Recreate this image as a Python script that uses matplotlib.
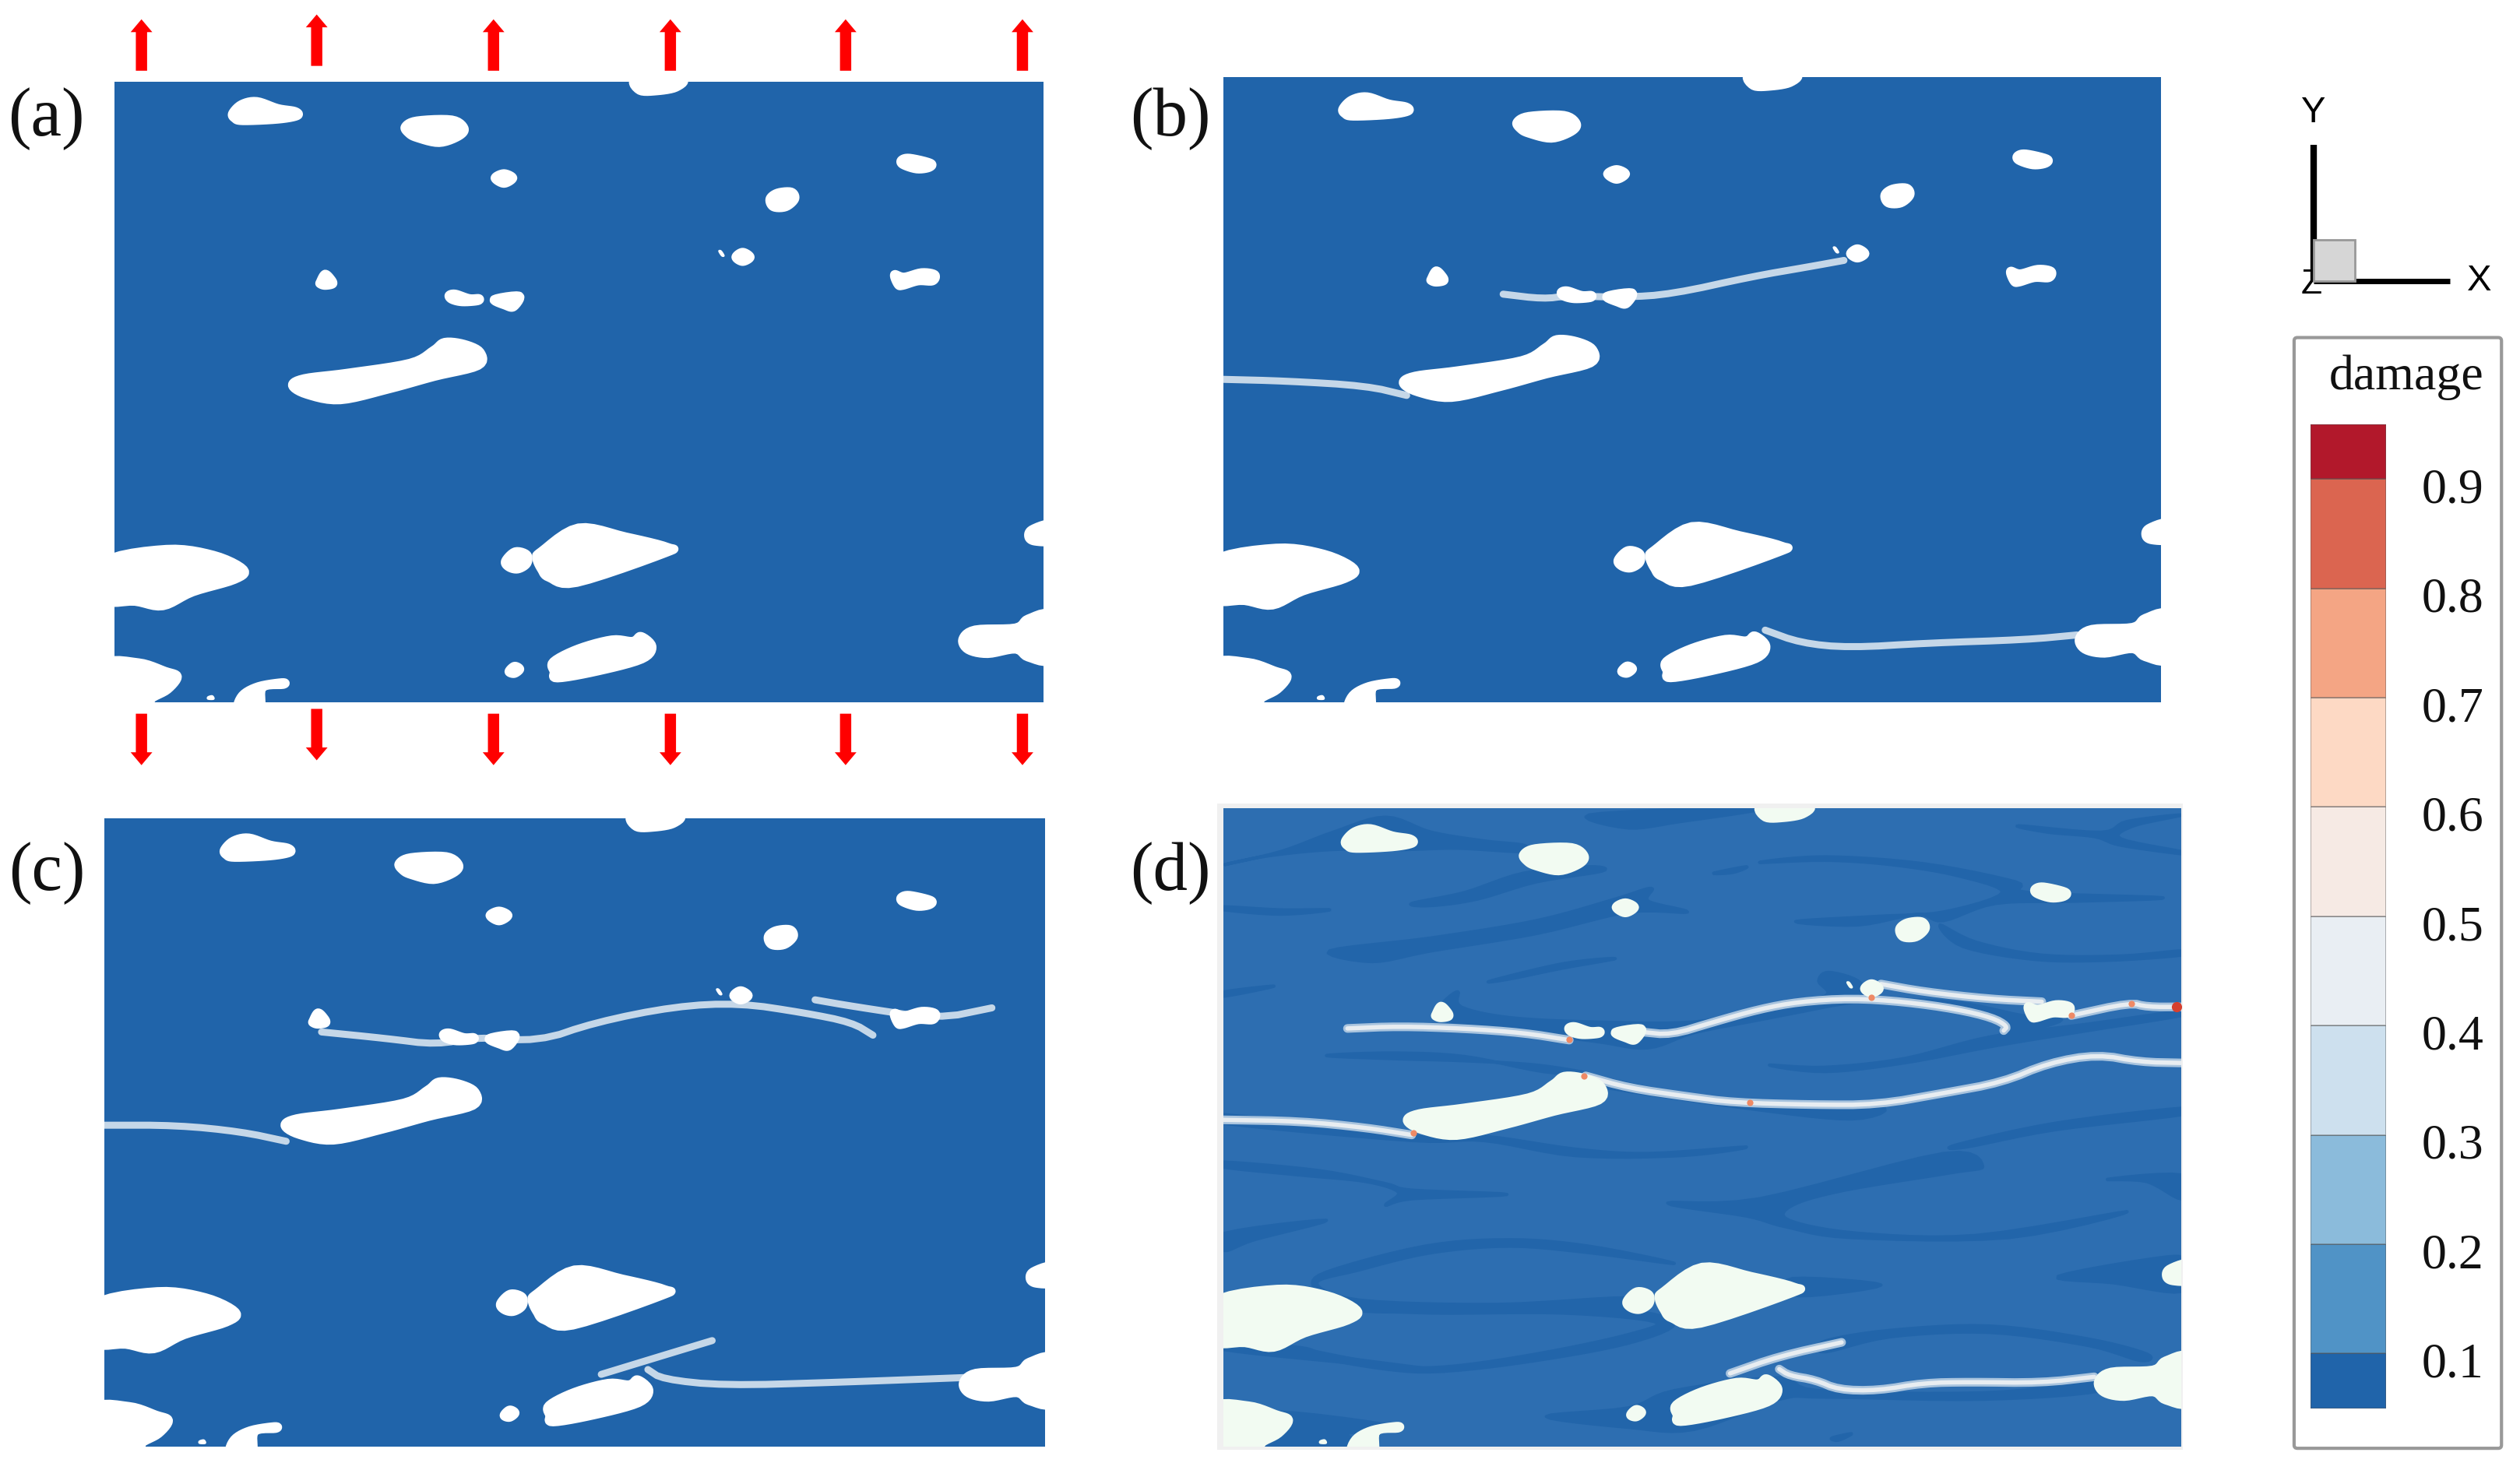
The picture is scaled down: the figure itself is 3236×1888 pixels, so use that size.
import numpy as np
import matplotlib
matplotlib.use('Agg')
import matplotlib.pyplot as plt
from matplotlib.patches import Polygon, Rectangle, FancyBboxPatch

# page coordinates are the picture scaled to 1568 wide
PAGE_W, PAGE_H = 1568, 914.5

# panel boxes: left, right, top, bottom
panel_names = ['(a)', '(b)', '(c)', '(d)']
panel_boxes = [(71, 649, 51, 437), (761, 1344, 48, 437), (65, 650, 509, 900), (761, 1357, 503, 900)]
label_xy = [(29, 74), (728, 74), (29, 543), (728, 543)]

# arrows
arrow_x = [88, 197, 307, 417, 526, 636]
arrow_top_base = [44, 41, 44, 44, 44, 44]
arrow_bottom_base = [444, 441, 444, 444, 444, 444]

# inclusions, outline, frame left/right/top/bottom below
blob_frame = (165, 1500, 165, 1412)
blobs = [
    [(335, 228), (348, 210), (370, 204), (400, 218), (425, 224), (428, 233), (400, 240), (350, 243), (338, 238)],
    [(583, 255), (600, 243), (650, 241), (668, 258), (660, 274), (632, 287), (600, 277), (588, 268)],
    [(712, 358), (725, 349), (738, 358), (725, 369)],
    [(915, 160), (980, 160), (972, 176), (945, 183), (920, 182)],
    [(1296, 322), (1308, 318), (1338, 328), (1336, 337), (1318, 340), (1298, 331)],
    [(1107, 400), (1118, 388), (1138, 386), (1143, 400), (1130, 416), (1112, 416)],
    [(1058, 517), (1068, 507), (1079, 517), (1068, 526)],
    [(1034, 505), (1037, 505), (1041, 514), (1038, 514)],
    [(1286, 552), (1300, 557), (1325, 548), (1344, 552), (1341, 565), (1320, 565), (1298, 574), (1291, 572)],
    [(461, 567), (468, 551), (477, 562), (479, 571), (468, 574), (461, 571)],
    [(646, 594), (655, 591), (675, 600), (689, 600), (687, 605), (665, 607), (650, 602)],
    [(711, 602), (747, 595), (739, 617), (727, 614)],
    [(421, 775), (438, 761), (500, 750), (590, 730), (624, 704), (640, 688), (668, 692), (691, 708), (688, 735),
     (625, 757), (560, 782), (490, 804), (442, 793)],
    [(150, 1130), (240, 1104), (308, 1116), (351, 1145), (338, 1165), (278, 1190), (235, 1218), (195, 1209), (150, 1205)],
    [(779, 1108), (832, 1061), (900, 1079), (960, 1100), (956, 1112), (830, 1171), (790, 1161), (779, 1145), (772, 1122)],
    [(727, 1128), (741, 1109), (758, 1115), (758, 1133), (745, 1144), (732, 1140)],
    [(1510, 1054), (1483, 1065), (1479, 1080), (1488, 1088), (1510, 1086)],
    [(1384, 1285), (1402, 1266), (1460, 1262), (1478, 1244), (1510, 1238), (1510, 1324), (1478, 1321), (1460, 1305),
     (1420, 1314), (1392, 1306)],
    [(796, 1330), (832, 1304), (880, 1286), (910, 1289), (922, 1279), (938, 1300), (923, 1325), (860, 1349),
     (802, 1363), (797, 1350)],
    [(732, 1350), (740, 1339), (748, 1345), (740, 1354)],
    [(150, 1336), (200, 1332), (238, 1349), (256, 1360), (242, 1386), (218, 1405), (212, 1425), (150, 1425)],
    [(344, 1425), (349, 1398), (372, 1380), (406, 1372), (408, 1376), (378, 1382), (374, 1425)],
    [(300, 1401), (306, 1399), (308, 1405), (300, 1405)],
]

# streaks of the darker damage level in panel (d), frame below
streak_frame = (83, 1543, 30, 1510)
streaks = [
    [(85, 160), (170, 130), (250, 85), (330, 50), (400, 85), (480, 105), (540, 115), (540, 130), (440, 122), (360, 125), (250, 125), (150, 140)],
    [(370, 250), (450, 225), (540, 180), (640, 165), (660, 175), (560, 200), (470, 240), (400, 255)],
    [(640, 45), (830, 30), (900, 32), (780, 60), (700, 75)],
    [(245, 360), (400, 330), (560, 290), (680, 240), (735, 215), (730, 245), (790, 270), (700, 270), (560, 320), (400, 360), (310, 385)],
    [(85, 258), (170, 265), (245, 265), (170, 275), (85, 265)],
    [(900, 155), (1000, 142), (1150, 158), (1290, 200), (1310, 225), (1515, 237), (1380, 245), (1260, 250), (1180, 290), (1140, 275),
     (1050, 300), (955, 292), (1080, 280), (1180, 270), (1270, 225), (1200, 185), (1100, 160), (1000, 150)],
    [(1175, 300), (1230, 340), (1330, 370), (1450, 372), (1543, 360), (1543, 370), (1430, 382), (1320, 380), (1210, 350)],
    [(1295, 70), (1420, 85), (1460, 60), (1543, 45), (1470, 70), (1450, 100), (1543, 130), (1543, 135), (1450, 115), (1410, 95), (1340, 85)],
    [(830, 180), (880, 165), (860, 178)],
    [(490, 430), (600, 390), (680, 378), (600, 400), (520, 425)],
    [(85, 455), (160, 442), (85, 465)],
    [(440, 455), (445, 490), (520, 515), (650, 525), (800, 525), (900, 495), (1000, 465), (990, 430), (1005, 410), (1050, 430), (1060, 470),
     (1000, 490), (900, 520), (800, 550), (730, 585), (650, 570), (500, 540), (410, 515), (415, 485)],
    [(1060, 470), (1200, 480), (1300, 510), (1360, 520), (1300, 550), (1260, 570), (1270, 530), (1200, 490)],
    [(240, 603), (340, 597), (450, 605), (570, 640), (640, 645), (560, 625), (450, 615), (340, 610)],
    [(915, 625), (1000, 630), (1120, 610), (1250, 560), (1400, 530), (1543, 500), (1543, 510), (1400, 545), (1260, 580), (1120, 620), (1000, 640)],
    [(640, 650), (850, 710), (1080, 720), (1040, 750), (880, 725), (640, 670)],
    [(85, 740), (370, 790), (480, 790), (620, 820), (730, 830), (880, 815), (780, 835), (620, 835), (480, 800), (370, 800), (85, 760)],
    [(1200, 810), (1350, 760), (1543, 725), (1543, 740), (1350, 775), (1215, 815)],
    [(85, 850), (230, 870), (330, 900), (370, 915), (515, 925), (370, 935), (330, 950), (350, 920), (300, 895), (200, 880), (85, 862)],
    [(760, 945), (900, 935), (1180, 830), (1240, 860), (1190, 875), (1030, 915), (950, 950), (945, 985), (1050, 1015), (1230, 1020),
     (1460, 965), (1280, 1025), (1040, 1025), (940, 1000), (880, 975)],
    [(1430, 890), (1543, 880), (1543, 935), (1490, 895)],
    [(85, 1015), (240, 985), (130, 1030), (85, 1055)],
    [(240, 1105), (390, 1045), (520, 1030), (640, 1045), (770, 1085), (640, 1060), (520, 1045), (400, 1060), (290, 1100), (225, 1130),
     (290, 1170), (500, 1180), (700, 1165), (700, 1195), (500, 1195), (290, 1195), (240, 1160), (220, 1140)],
    [(950, 1120), (1085, 1135), (960, 1160)],
    [(290, 1190), (500, 1190), (700, 1195), (770, 1225), (700, 1270), (560, 1310), (420, 1335), (330, 1330), (200, 1295), (190, 1280),
     (330, 1320), (420, 1325), (560, 1295), (700, 1250), (740, 1220), (600, 1200), (400, 1200)],
    [(1355, 1115), (1520, 1070), (1543, 1085), (1543, 1150), (1440, 1130)],
    [(85, 1268), (200, 1280), (250, 1300), (420, 1335), (250, 1312), (85, 1285)],
    [(1000, 1265), (1100, 1240), (1250, 1230), (1400, 1260), (1490, 1295), (1480, 1310), (1400, 1275), (1250, 1245), (1100, 1255), (1000, 1290)],
    [(575, 1440), (700, 1420), (770, 1380), (930, 1350), (990, 1380), (1240, 1385), (1400, 1360), (1415, 1340), (1420, 1380), (1240, 1400),
     (1000, 1395), (930, 1400), (800, 1470), (700, 1465)],
    [(170, 1430), (350, 1465), (270, 1480), (300, 1510), (140, 1510), (180, 1470)],
    [(1010, 1490), (1040, 1480), (1020, 1495)],
]

# cracks, page coordinates for (b) and (c), streak frame for (d)
cracks_b = [
    [(935, 183), (960, 186), (975, 184), (1010, 185), (1040, 183), (1090, 172), (1125, 166), (1147, 162)],
    [(761, 236), (800, 237), (850, 240), (875, 246)],
    [(1098, 392), (1120, 400), (1150, 403), (1200, 400), (1260, 398), (1292, 395)],
]
cracks_c = [
    [(200, 642), (240, 646), (272, 650), (295, 645), (335, 648), (370, 636), (420, 626), (460, 624), (500, 630), (530, 636), (543, 644)],
    [(507, 622), (530, 626), (583, 634), (617, 627)],
    [(65, 700), (110, 700), (150, 704), (178, 710)],
    [(403, 852), (412, 858), (450, 862), (520, 860), (600, 857)],
    [(374, 855), (410, 844), (443, 834)],
]
cracks_d = [
    [(272, 540), (350, 535), (450, 540), (540, 550), (610, 567)],
    [(720, 548), (765, 555), (830, 525), (900, 495), (960, 478), (1040, 470), (1120, 478), (1200, 495), (1255, 515), (1278, 535), (1272, 545)],
    [(1085, 437), (1150, 455), (1250, 472), (1330, 478)],
    [(1375, 510), (1465, 480), (1490, 490), (1543, 490)],
    [(635, 650), (700, 678), (790, 698), (860, 712), (980, 717), (1080, 717), (1180, 690), (1270, 665), (1340, 620), (1415, 600), (1480, 618), (1543, 620)],
    [(83, 752), (200, 755), (300, 770), (370, 787)],
    [(855, 1340), (930, 1300), (1025, 1268)],
    [(930, 1330), (945, 1345), (985, 1355), (1020, 1378), (1080, 1380), (1150, 1362), (1220, 1360), (1330, 1362), (1410, 1348)],
]
hot_spots_x = [1535, 372, 885, 1467, 1070, 632, 1375, 610]
hot_spots_y = [490, 783, 712, 482, 468, 650, 510, 565]

# colour legend
levels = [0.05, 0.1, 0.2, 0.3, 0.4, 0.5, 0.6, 0.7, 0.8, 0.9, 0.95]
level_colors = ['#2064aa', '#5093c6', '#8bbbdb', '#cde0ee', '#e9eef3', '#f6eae4', '#fdd9c4', '#f4a584', '#db6550', '#b2182b']
tick_values = [0.1, 0.2, 0.3, 0.4, 0.5, 0.6, 0.7, 0.8, 0.9]


def smooth(points, n=6):
    # closed spline through the outline points
    p = np.array(points, dtype=float)
    t = np.linspace(0, 1, n, endpoint=False)[:, None]
    out = []
    for i in range(len(p)):
        a, b, c, d = p[i - 1], p[i], p[(i + 1) % len(p)], p[(i + 2) % len(p)]
        out.append(0.5 * (2 * b + (c - a) * t + (2 * a - 5 * b + 4 * c - d) * t ** 2 + (3 * b - a - 3 * c + d) * t ** 3))
    return np.vstack(out)


def smooth_open(points, rounds=2):
    p = np.array(points, dtype=float)
    for _ in range(rounds):
        a, b = p[:-1], p[1:]
        mid = np.column_stack([0.75 * a + 0.25 * b, 0.25 * a + 0.75 * b]).reshape(-1, 2)
        p = np.vstack([p[0], mid, p[-1]])
    return p


def to_frac(p, frame):
    p = np.asarray(p, dtype=float)
    return np.column_stack([(p[:, 0] - frame[0]) / (frame[1] - frame[0]), (p[:, 1] - frame[2]) / (frame[3] - frame[2])])


plt.rcParams['font.family'] = ['Liberation Serif', 'DejaVu Serif']
fig = plt.figure(figsize=(32.37, 18.88), dpi=100)

page = fig.add_axes([0, 0, 1, 1], zorder=1)
page.set_xlim(0, PAGE_W)
page.set_ylim(PAGE_H, 0)
page.axis('off')
top_page = fig.add_axes([0, 0, 1, 1], zorder=5)
top_page.set_xlim(0, PAGE_W)
top_page.set_ylim(PAGE_H, 0)
top_page.axis('off')

page.add_patch(Rectangle((757, 500), 601, 402, fc='#f0f0f0', ec='none'))

panel_axes = []
for box in panel_boxes:
    ax = fig.add_axes([box[0] / PAGE_W, 1 - box[3] / PAGE_H, (box[1] - box[0]) / PAGE_W, (box[3] - box[2]) / PAGE_H], zorder=2)
    ax.set_xlim(0, 1)
    ax.set_ylim(1, 0)
    ax.axis('off')
    panel_axes.append(ax)

fills = ['#2064aa', '#2064aa', '#2064aa', '#2d6eb1']
for i, ax in enumerate(panel_axes):
    ax.add_patch(Rectangle((0, 0), 1, 1, fc=fills[i], ec='none', zorder=0))
    if i == 3:
        for s in streaks:
            ax.add_patch(Polygon(to_frac(smooth(s), streak_frame), fc='#2265aa', ec='#2265aa', lw=3, joinstyle='round', zorder=1))
    blob_color = '#f2fbf2' if i == 3 else 'white'
    for b in blobs:
        # the very small specks get almost no outline
        size = np.ptp(np.array(b), axis=0).max()
        ax.add_patch(Polygon(to_frac(smooth(b), blob_frame), fc=blob_color, ec=blob_color, lw=8 if size > 15 else 1.5, joinstyle='round', zorder=3))

for i, group in [(1, cracks_b), (2, cracks_c)]:
    box = panel_boxes[i]
    for c in group:
        xy = to_frac(smooth_open(c), (box[0], box[1], box[2], box[3]))
        panel_axes[i].plot(xy[:, 0], xy[:, 1], color='#c5d7e8', lw=6.5, solid_capstyle='round', zorder=2)

for c in cracks_d:
    xy = to_frac(smooth_open(c), streak_frame)
    panel_axes[3].plot(xy[:, 0], xy[:, 1], color='#a9c4de', lw=8, solid_capstyle='round', zorder=2)
    panel_axes[3].plot(xy[:, 0], xy[:, 1], color='#e8edf1', lw=4, solid_capstyle='round', zorder=2)
hot = to_frac(np.column_stack([hot_spots_x, hot_spots_y]), streak_frame)
panel_axes[3].scatter(hot[:, 0], hot[:, 1], s=35, color='#ee8a66', linewidths=0, zorder=4)
panel_axes[3].scatter(hot[0, 0], hot[0, 1], s=90, color='#d6402f', linewidths=0, zorder=4)

for name, (x, y) in zip(panel_names, label_xy):
    top_page.text(x, y, name, fontsize=64, ha='center', va='center', color='#111111')

# load arrows
for x, y0, y1 in zip(arrow_x, arrow_top_base, arrow_bottom_base):
    top_page.arrow(x, y0, 0, -32, width=7, head_width=13.5, head_length=8, length_includes_head=True, fc='#ff0000', ec='none')
    top_page.arrow(x, y1, 0, 32, width=7, head_width=13.5, head_length=8, length_includes_head=True, fc='#ff0000', ec='none')

# coordinate triad
top_page.plot([1439, 1439], [90, 175], color='black', lw=6, solid_capstyle='butt')
top_page.plot([1439, 1524], [175, 175], color='black', lw=5, solid_capstyle='butt')
top_page.add_patch(Rectangle((1439, 149), 26, 26, fc='#d6d6d6', ec='#999999', lw=2, zorder=4))
top_page.text(1439, 70, 'Y', family='Liberation Sans', fontsize=34, ha='center', va='center')
top_page.text(1542, 175, 'X', family='Liberation Sans', fontsize=34, ha='center', va='center')
top_page.text(1438, 177, 'Z', family='Liberation Sans', fontsize=32, ha='center', va='center', zorder=3)

# colour legend
page.add_patch(FancyBboxPatch((1427, 210), 129, 691, boxstyle='round,pad=0,rounding_size=2', fc='white', ec='#999999', lw=3))
top_page.text(1545, 235, 'damage', fontsize=46, ha='right', va='center', color='#111111')

cax = fig.add_axes([1437 / PAGE_W, 1 - 876 / PAGE_H, 47 / PAGE_W, 612 / PAGE_H], zorder=3)
cax.bar([0] * len(level_colors), np.diff(levels), bottom=levels[:-1], width=1, color=level_colors, edgecolor='#55555580', linewidth=1.2)
cax.set_xlim(-0.5, 0.5)
cax.set_ylim(levels[0], levels[-1])
cax.axis('off')
for v in tick_values:
    cax.annotate('%.1f' % v, (1.0, v), xycoords=('axes fraction', 'data'), xytext=(33, -11), textcoords='offset points',
                 ha='left', va='center', fontsize=46, annotation_clip=False, color='#111111')

fig.savefig('out.png', dpi=100)
